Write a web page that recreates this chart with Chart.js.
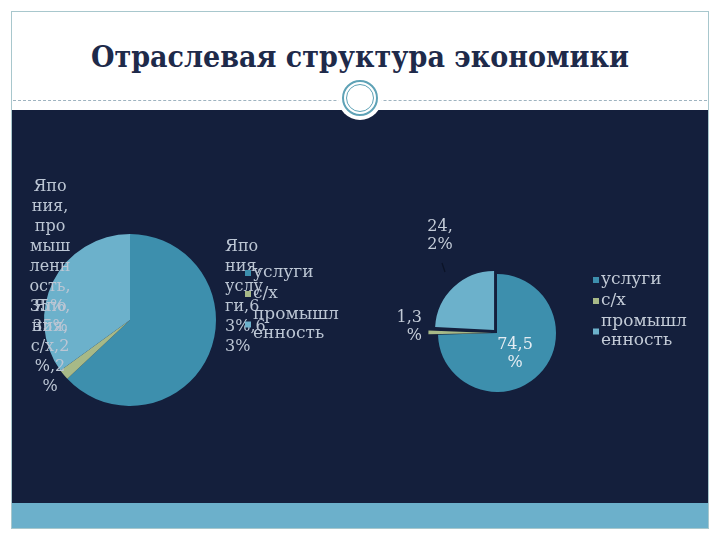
<!DOCTYPE html>
<html>
<head>
<meta charset="utf-8">
<script src="https://cdn.jsdelivr.net/npm/chart.js@4/dist/chart.umd.min.js"></script>
<style>
  html, body { margin: 0; padding: 0; width: 720px; height: 540px; background: #fff; overflow: hidden; }
  #frame { position: absolute; left: 11px; top: 11px; width: 696px; height: 516px; border: 1px solid #a8c7cd; }
  #title { position: absolute; left: 0; top: 39px; width: 720px; text-align: center; margin: 0;
           font: bold 30px "DejaVu Serif"; font-stretch: condensed; color: #1e2a4a; }
  #dash { position: absolute; left: 13px; top: 100px; width: 694px; border-top: 1px dashed #9fb4c0; }
  #navy { position: absolute; left: 12px; top: 110px; width: 696px; height: 393px; background: #141f3c; }
  #band { position: absolute; left: 12px; top: 503px; width: 696px; height: 25px; background: #6cb0cb; }
  #disc { position: absolute; left: 338px; top: 76px; width: 44px; height: 44px; border-radius: 50%; background: #fff; }
  #ring1 { position: absolute; left: 342px; top: 80px; width: 32px; height: 32px; border-radius: 50%; border: 2px solid #5ea2b6; }
  #ring2 { position: absolute; left: 346px; top: 84px; width: 26px; height: 26px; border-radius: 50%; border: 1px solid #5ea2b6; }
  .box { position: absolute; top: 150px; height: 350px; }
  #leftBox { left: 0; width: 360px; }
  #rightBox { left: 360px; width: 340px; }
</style>
</head>
<body>
<div id="frame"></div>
<h1 id="title">Отраслевая структура экономики</h1>
<div id="dash"></div>
<div id="navy"></div>
<div id="band"></div>
<div id="disc"></div>
<div id="ring1"></div>
<div id="ring2"></div>
<div class="box" id="leftBox"><canvas id="leftPie"></canvas></div>
<div class="box" id="rightBox"><canvas id="rightPie"></canvas></div>

<script>
// данные
const categories = ['услуги', 'с/х', 'промышленность'];
const country = 'Япония';
const leftShares = [63, 2, 35];       // левая диаграмма, %
const rightShares = [74.5, 1.3, 24.2]; // правая диаграмма, %
const sliceColors = ['#3d8fad', '#a7b987', '#6cb1cb'];

const serif = '"DejaVu Serif"';

// перенос текста по символам, как в подписях Excel
function wrapText(ctx, text, maxWidth) {
    const lines = [];
    let line = '';
    for (const ch of text) {
        if (line && ctx.measureText(line + ch).width > maxWidth) {
            lines.push(line.trim());
            line = ch === ' ' ? '' : ch;
        } else {
            line += ch;
        }
    }
    if (line.trim()) lines.push(line.trim());
    return lines;
}

function pct(v) {
    return String(v).replace('.', ',') + '%';
}

// подписи секторов и легенда
const pieText = {
    id: 'pieText',
    afterDatasetsDraw(chart, args, opts) {
        const ctx = chart.ctx;
        const meta = chart.getDatasetMeta(0);
        const values = chart.data.datasets[0].data;
        ctx.save();
        ctx.textBaseline = 'middle';

        // подписи данных (dy — первая строка)
        ctx.font = opts.labelFont;
        meta.data.forEach((arc, i) => {
            const place = opts.places[i];
            const text = opts.labelText(chart.data.labels[i], values[i]);
            const lines = wrapText(ctx, text, place.wrap || opts.labelWrap);
            const lh = opts.lineHeight;
            const x = arc.x + place.dx;
            const top = arc.y + place.dy;
            ctx.fillStyle = place.color || opts.labelColor;
            ctx.textAlign = place.align || 'center';
            lines.forEach((ln, k) => ctx.fillText(ln, x, top + k * lh));
            if (place.leader) {
                ctx.strokeStyle = '#0c1326';
                ctx.lineWidth = 1.2;
                ctx.beginPath();
                ctx.moveTo(arc.x + place.leader[0], arc.y + place.leader[1]);
                ctx.lineTo(arc.x + place.leader[2], arc.y + place.leader[3]);
                ctx.stroke();
            }
        });

        // легенда
        const lg = opts.legend;
        ctx.font = lg.font;
        ctx.textAlign = 'left';
        let y = lg.y;
        let prevH = 0;
        chart.data.labels.forEach((name, i) => {
            const lines = wrapText(ctx, name, lg.wrap);
            const h = lines.length * lg.lineHeight + 2;
            y += i === 0 ? 0 : prevH / 2 + h / 2;
            prevH = h;
            ctx.fillStyle = chart.data.datasets[0].backgroundColor[i];
            ctx.fillRect(lg.x, y - 3, 6, 6);
            ctx.fillStyle = opts.labelColor;
            const top = y - (lines.length - 1) * lg.lineHeight / 2;
            lines.forEach((ln, k) => ctx.fillText(ln, lg.x + 8, top + k * lg.lineHeight));
        });
        ctx.restore();
    }
};

function makePie(canvasId, values, offsets, padding, textOpts) {
    return new Chart(document.getElementById(canvasId), {
        type: 'pie',
        data: {
            labels: categories,
            datasets: [{
                data: values,
                backgroundColor: sliceColors,
                borderWidth: 0,
                hoverBorderWidth: 0,
                offset: offsets,
                hoverOffset: 0
            }]
        },
        options: {
            responsive: true,
            maintainAspectRatio: false,
            animation: false,
            events: [],
            layout: { padding: padding },
            plugins: {
                legend: { display: false },
                tooltip: { enabled: false },
                pieText: textOpts
            }
        },
        plugins: [pieText]
    });
}

// левая диаграмма: Япония
makePie('leftPie', leftShares, [0, 0, 0],
    { left: 44, right: 144, top: 84, bottom: 94 },
    {
        labelFont: '16px ' + serif,
        labelColor: '#bcc6d4',
        lineHeight: 20,
        labelWrap: 42,
        labelText: (cat, v) => country + ', ' + cat + ',' + pct(v) + ',' + pct(v),
        places: [
            { dx: 95, dy: -73, align: 'left' },
            { dx: -80, dy: -13 },
            { dx: -80, dy: -133 }
        ],
        legend: { x: 245, y: 123, wrap: 90, lineHeight: 19, font: '17px ' + serif }
    });

// правая диаграмма
makePie('rightPie', rightShares, [0, 20, 17],
    { left: 68, right: 134, top: 114, bottom: 98 },
    {
        labelFont: '16px ' + serif,
        labelColor: '#c3cbd7',
        lineHeight: 18,
        labelWrap: 32,
        labelText: (cat, v) => pct(v),
        places: [
            { dx: 18, dy: 12, color: '#e4ecf2', wrap: 42 },
            { dx: -75, dy: -15, align: 'right' },
            { dx: -57, dy: -106, leader: [-55, -70, -52, -61] }
        ],
        legend: { x: 233, y: 130, wrap: 90, lineHeight: 19, font: '17px ' + serif }
    });
</script>
</body>
</html>
